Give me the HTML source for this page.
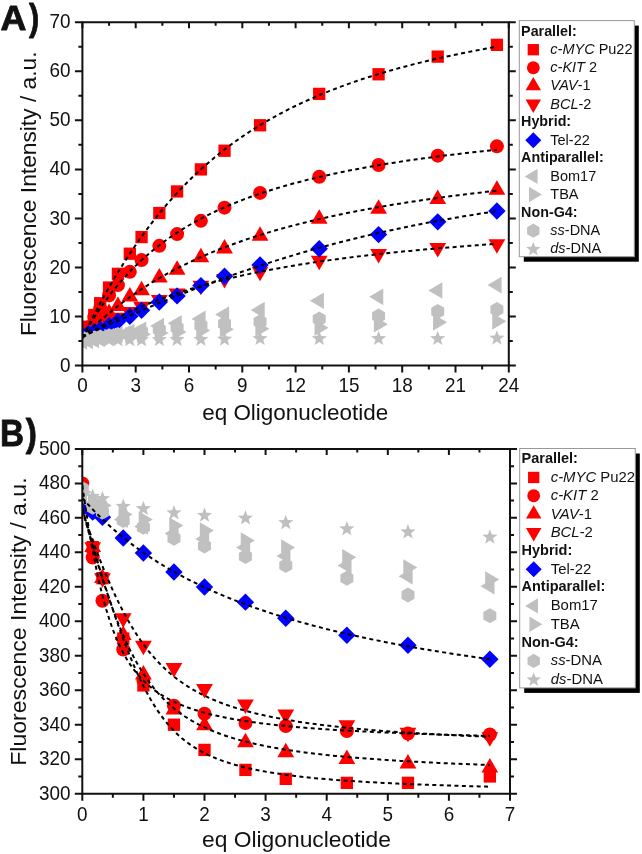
<!DOCTYPE html>
<html><head><meta charset="utf-8"><style>
html,body{margin:0;padding:0;background:#fff;}
body{width:642px;height:854px;overflow:hidden;}
svg{display:block;filter:blur(0.3px);}
text{font-family:"Liberation Sans",sans-serif;fill:#111;}
</style></head><body>
<svg width="642" height="854" viewBox="0 0 642 854">
<defs>
<clipPath id="cA"><rect x="82.4" y="22.3" width="426.4" height="343.2"/></clipPath>
<clipPath id="cB"><rect x="82.3" y="448.9" width="427.7" height="344.8"/></clipPath>
</defs>

<g clip-path="url(#cA)">
<rect x="76.25" y="324.05" width="12.3" height="12.3" fill="#ff0000"/>
<rect x="82.11" y="320.62" width="12.3" height="12.3" fill="#ff0000"/>
<rect x="88.15" y="308.85" width="12.3" height="12.3" fill="#ff0000"/>
<rect x="94.02" y="297.08" width="12.3" height="12.3" fill="#ff0000"/>
<rect x="102.9" y="281.39" width="12.3" height="12.3" fill="#ff0000"/>
<rect x="111.78" y="267.67" width="12.3" height="12.3" fill="#ff0000"/>
<rect x="123.69" y="247.56" width="12.3" height="12.3" fill="#ff0000"/>
<rect x="135.41" y="230.9" width="12.3" height="12.3" fill="#ff0000"/>
<rect x="153.18" y="206.87" width="12.3" height="12.3" fill="#ff0000"/>
<rect x="170.95" y="185.3" width="12.3" height="12.3" fill="#ff0000"/>
<rect x="194.75" y="163.24" width="12.3" height="12.3" fill="#ff0000"/>
<rect x="218.38" y="144.6" width="12.3" height="12.3" fill="#ff0000"/>
<rect x="253.92" y="119.11" width="12.3" height="12.3" fill="#ff0000"/>
<rect x="313.08" y="87.73" width="12.3" height="12.3" fill="#ff0000"/>
<rect x="372.42" y="68.12" width="12.3" height="12.3" fill="#ff0000"/>
<rect x="431.58" y="50.47" width="12.3" height="12.3" fill="#ff0000"/>
<rect x="490.75" y="38.7" width="12.3" height="12.3" fill="#ff0000"/>
<circle cx="82.4" cy="331.18" r="7" fill="#ff0000"/>
<circle cx="88.26" cy="327.19" r="7" fill="#ff0000"/>
<circle cx="94.3" cy="317.31" r="7" fill="#ff0000"/>
<circle cx="100.17" cy="308.4" r="7" fill="#ff0000"/>
<circle cx="109.05" cy="295.39" r="7" fill="#ff0000"/>
<circle cx="117.93" cy="285.09" r="7" fill="#ff0000"/>
<circle cx="129.84" cy="271.86" r="7" fill="#ff0000"/>
<circle cx="141.56" cy="260.09" r="7" fill="#ff0000"/>
<circle cx="159.33" cy="245.87" r="7" fill="#ff0000"/>
<circle cx="177.1" cy="234.1" r="7" fill="#ff0000"/>
<circle cx="200.9" cy="220.87" r="7" fill="#ff0000"/>
<circle cx="224.53" cy="207.63" r="7" fill="#ff0000"/>
<circle cx="260.07" cy="192.92" r="7" fill="#ff0000"/>
<circle cx="319.23" cy="176.74" r="7" fill="#ff0000"/>
<circle cx="378.57" cy="164.97" r="7" fill="#ff0000"/>
<circle cx="437.73" cy="155.66" r="7" fill="#ff0000"/>
<circle cx="496.9" cy="146.34" r="7" fill="#ff0000"/>
<polygon points="82.4,322.49 90.8,336.99 74,336.99" fill="#ff0000"/>
<polygon points="88.26,322.11 96.66,336.61 79.86,336.61" fill="#ff0000"/>
<polygon points="94.3,316.4 102.7,330.9 85.9,330.9" fill="#ff0000"/>
<polygon points="100.17,311.1 108.57,325.6 91.77,325.6" fill="#ff0000"/>
<polygon points="109.05,303.5 117.45,318 100.65,318" fill="#ff0000"/>
<polygon points="117.93,296.41 126.33,310.91 109.53,310.91" fill="#ff0000"/>
<polygon points="129.84,287.05 138.24,301.55 121.44,301.55" fill="#ff0000"/>
<polygon points="141.56,280.67 149.96,295.17 133.16,295.17" fill="#ff0000"/>
<polygon points="159.33,267.97 167.73,282.47 150.93,282.47" fill="#ff0000"/>
<polygon points="177.1,260.13 185.5,274.63 168.7,274.63" fill="#ff0000"/>
<polygon points="200.9,247.87 209.3,262.37 192.5,262.37" fill="#ff0000"/>
<polygon points="224.53,239.05 232.93,253.55 216.13,253.55" fill="#ff0000"/>
<polygon points="260.07,226.3 268.47,240.8 251.67,240.8" fill="#ff0000"/>
<polygon points="319.23,209.14 327.63,223.64 310.83,223.64" fill="#ff0000"/>
<polygon points="378.57,199.33 386.97,213.83 370.17,213.83" fill="#ff0000"/>
<polygon points="437.73,189.53 446.13,204.03 429.33,204.03" fill="#ff0000"/>
<polygon points="496.9,180.21 505.3,194.71 488.5,194.71" fill="#ff0000"/>
<polygon points="82.4,341.83 90.8,327.33 74,327.33" fill="#ff0000"/>
<polygon points="88.26,343.56 96.66,329.06 79.86,329.06" fill="#ff0000"/>
<polygon points="94.3,339.94 102.7,325.44 85.9,325.44" fill="#ff0000"/>
<polygon points="100.17,336.56 108.57,322.06 91.77,322.06" fill="#ff0000"/>
<polygon points="109.05,331.7 117.45,317.2 100.65,317.2" fill="#ff0000"/>
<polygon points="117.93,327.13 126.33,312.63 109.53,312.63" fill="#ff0000"/>
<polygon points="129.84,321.44 138.24,306.94 121.44,306.94" fill="#ff0000"/>
<polygon points="141.56,316.27 149.96,301.77 133.16,301.77" fill="#ff0000"/>
<polygon points="159.33,309.57 167.73,295.07 150.93,295.07" fill="#ff0000"/>
<polygon points="177.1,303 185.5,288.5 168.7,288.5" fill="#ff0000"/>
<polygon points="200.9,295.35 209.3,280.85 192.5,280.85" fill="#ff0000"/>
<polygon points="224.53,288.48 232.93,273.98 216.13,273.98" fill="#ff0000"/>
<polygon points="260.07,281.13 268.47,266.63 251.67,266.63" fill="#ff0000"/>
<polygon points="319.23,270.34 327.63,255.84 310.83,255.84" fill="#ff0000"/>
<polygon points="378.57,263.48 386.97,248.98 370.17,248.98" fill="#ff0000"/>
<polygon points="437.73,257.6 446.13,243.1 429.33,243.1" fill="#ff0000"/>
<polygon points="496.9,253.67 505.3,239.17 488.5,239.17" fill="#ff0000"/>
<polygon points="82.4,326.89 91.1,335.59 82.4,344.29 73.7,335.59" fill="#0000ff"/>
<polygon points="88.26,324.93 96.96,333.63 88.26,342.33 79.56,333.63" fill="#0000ff"/>
<polygon points="94.3,322.97 103,331.67 94.3,340.37 85.6,331.67" fill="#0000ff"/>
<polygon points="100.17,321.01 108.87,329.71 100.17,338.41 91.47,329.71" fill="#0000ff"/>
<polygon points="109.05,317.09 117.75,325.79 109.05,334.49 100.35,325.79" fill="#0000ff"/>
<polygon points="117.93,312.67 126.63,321.37 117.93,330.07 109.23,321.37" fill="#0000ff"/>
<polygon points="129.84,307.53 138.54,316.23 129.84,324.93 121.14,316.23" fill="#0000ff"/>
<polygon points="141.56,301.64 150.26,310.34 141.56,319.04 132.86,310.34" fill="#0000ff"/>
<polygon points="159.33,293.31 168.03,302.01 159.33,310.71 150.63,302.01" fill="#0000ff"/>
<polygon points="177.1,287.18 185.8,295.88 177.1,304.58 168.4,295.88" fill="#0000ff"/>
<polygon points="200.9,276.88 209.6,285.58 200.9,294.28 192.2,285.58" fill="#0000ff"/>
<polygon points="224.53,267.57 233.23,276.27 224.53,284.97 215.83,276.27" fill="#0000ff"/>
<polygon points="260.07,256.29 268.77,264.99 260.07,273.69 251.37,264.99" fill="#0000ff"/>
<polygon points="319.23,240.11 327.93,248.81 319.23,257.51 310.53,248.81" fill="#0000ff"/>
<polygon points="378.57,225.89 387.27,234.59 378.57,243.29 369.87,234.59" fill="#0000ff"/>
<polygon points="437.73,213.15 446.43,221.85 437.73,230.55 429.03,221.85" fill="#0000ff"/>
<polygon points="496.9,202.36 505.6,211.06 496.9,219.76 488.2,211.06" fill="#0000ff"/>
<polygon points="73.07,341.48 87.07,333.18 87.07,349.78" fill="#c0c0c0"/>
<polygon points="78.93,340.99 92.93,332.69 92.93,349.29" fill="#c0c0c0"/>
<polygon points="84.97,340.01 98.97,331.71 98.97,348.31" fill="#c0c0c0"/>
<polygon points="90.83,339.02 104.83,330.72 104.83,347.32" fill="#c0c0c0"/>
<polygon points="99.72,336.57 113.72,328.27 113.72,344.87" fill="#c0c0c0"/>
<polygon points="108.6,334.61 122.6,326.31 122.6,342.91" fill="#c0c0c0"/>
<polygon points="120.5,332.16 134.5,323.86 134.5,340.46" fill="#c0c0c0"/>
<polygon points="132.23,329.71 146.23,321.41 146.23,338.01" fill="#c0c0c0"/>
<polygon points="150,326.03 164,317.73 164,334.33" fill="#c0c0c0"/>
<polygon points="167.76,323.34 181.76,315.04 181.76,331.64" fill="#c0c0c0"/>
<polygon points="191.57,318.92 205.57,310.62 205.57,327.22" fill="#c0c0c0"/>
<polygon points="215.2,314.51 229.2,306.21 229.2,322.81" fill="#c0c0c0"/>
<polygon points="250.73,310.1 264.73,301.8 264.73,318.4" fill="#c0c0c0"/>
<polygon points="309.9,300.78 323.9,292.48 323.9,309.08" fill="#c0c0c0"/>
<polygon points="369.24,296.86 383.24,288.56 383.24,305.16" fill="#c0c0c0"/>
<polygon points="428.4,290.49 442.4,282.19 442.4,298.79" fill="#c0c0c0"/>
<polygon points="487.56,285.09 501.56,276.79 501.56,293.39" fill="#c0c0c0"/>
<polygon points="91.73,340.01 77.73,331.71 77.73,348.31" fill="#c0c0c0"/>
<polygon points="97.6,339.33 83.6,331.03 83.6,347.63" fill="#c0c0c0"/>
<polygon points="103.64,338.66 89.64,330.36 89.64,346.96" fill="#c0c0c0"/>
<polygon points="109.5,338.04 95.5,329.74 95.5,346.34" fill="#c0c0c0"/>
<polygon points="118.38,337.16 104.38,328.86 104.38,345.46" fill="#c0c0c0"/>
<polygon points="127.27,336.33 113.27,328.03 113.27,344.63" fill="#c0c0c0"/>
<polygon points="139.17,335.29 125.17,326.99 125.17,343.59" fill="#c0c0c0"/>
<polygon points="150.9,334.35 136.9,326.05 136.9,342.65" fill="#c0c0c0"/>
<polygon points="168.66,333.06 154.66,324.76 154.66,341.36" fill="#c0c0c0"/>
<polygon points="186.43,331.89 172.43,323.59 172.43,340.19" fill="#c0c0c0"/>
<polygon points="210.24,330.51 196.24,322.21 196.24,338.81" fill="#c0c0c0"/>
<polygon points="233.87,329.31 219.87,321.01 219.87,337.61" fill="#c0c0c0"/>
<polygon points="269.4,328.73 255.4,320.43 255.4,337.03" fill="#c0c0c0"/>
<polygon points="328.56,327.75 314.56,319.45 314.56,336.05" fill="#c0c0c0"/>
<polygon points="387.9,324.32 373.9,316.02 373.9,332.62" fill="#c0c0c0"/>
<polygon points="447.07,322.35 433.07,314.05 433.07,330.65" fill="#c0c0c0"/>
<polygon points="506.23,321.37 492.23,313.07 492.23,329.67" fill="#c0c0c0"/>
<polygon points="82.4,332.51 88.9,336.26 88.9,343.76 82.4,347.51 75.9,343.76 75.9,336.26" fill="#c0c0c0"/>
<polygon points="88.26,331.51 94.76,335.26 94.76,342.76 88.26,346.51 81.77,342.76 81.77,335.26" fill="#c0c0c0"/>
<polygon points="94.3,330.53 100.8,334.28 100.8,341.78 94.3,345.53 87.81,341.78 87.81,334.28" fill="#c0c0c0"/>
<polygon points="100.17,329.62 106.66,333.37 106.66,340.87 100.17,344.62 93.67,340.87 93.67,333.37" fill="#c0c0c0"/>
<polygon points="109.05,328.3 115.55,332.05 115.55,339.55 109.05,343.3 102.55,339.55 102.55,332.05" fill="#c0c0c0"/>
<polygon points="117.93,327.06 124.43,330.81 124.43,338.31 117.93,342.06 111.44,338.31 111.44,330.81" fill="#c0c0c0"/>
<polygon points="129.84,325.49 136.33,329.24 136.33,336.74 129.84,340.49 123.34,336.74 123.34,329.24" fill="#c0c0c0"/>
<polygon points="141.56,324.06 148.06,327.81 148.06,335.31 141.56,339.06 135.07,335.31 135.07,327.81" fill="#c0c0c0"/>
<polygon points="159.33,322.06 165.82,325.81 165.82,333.31 159.33,337.06 152.83,333.31 152.83,325.81" fill="#c0c0c0"/>
<polygon points="177.1,320.25 183.59,324 183.59,331.5 177.1,335.25 170.6,331.5 170.6,324" fill="#c0c0c0"/>
<polygon points="200.9,318.08 207.4,321.83 207.4,329.33 200.9,333.08 194.41,329.33 194.41,321.83" fill="#c0c0c0"/>
<polygon points="224.53,316.16 231.03,319.91 231.03,327.41 224.53,331.16 218.04,327.41 218.04,319.91" fill="#c0c0c0"/>
<polygon points="260.07,314.36 266.56,318.11 266.56,325.61 260.07,329.36 253.57,325.61 253.57,318.11" fill="#c0c0c0"/>
<polygon points="319.23,311.42 325.72,315.17 325.72,322.67 319.23,326.42 312.73,322.67 312.73,315.17" fill="#c0c0c0"/>
<polygon points="378.57,308.48 385.07,312.23 385.07,319.73 378.57,323.48 372.08,319.73 372.08,312.23" fill="#c0c0c0"/>
<polygon points="437.73,304.07 444.23,307.82 444.23,315.32 437.73,319.07 431.24,315.32 431.24,307.82" fill="#c0c0c0"/>
<polygon points="496.9,302.11 503.39,305.86 503.39,313.36 496.9,317.11 490.4,313.36 490.4,305.86" fill="#c0c0c0"/>
<polygon points="82.4,332.11 84.37,337.4 90.01,337.64 85.6,341.15 87.1,346.59 82.4,343.47 77.7,346.59 79.2,341.15 74.79,337.64 80.43,337.4" fill="#c0c0c0"/>
<polygon points="88.26,332.08 90.24,337.36 95.87,337.61 91.46,341.12 92.97,346.55 88.26,343.44 83.56,346.55 85.07,341.12 80.65,337.61 86.29,337.36" fill="#c0c0c0"/>
<polygon points="94.3,332.05 96.28,337.33 101.91,337.58 97.5,341.09 99.01,346.52 94.3,343.41 89.6,346.52 91.11,341.09 86.7,337.58 92.33,337.33" fill="#c0c0c0"/>
<polygon points="100.17,332.02 102.14,337.3 107.78,337.54 103.36,341.06 104.87,346.49 100.17,343.38 95.46,346.49 96.97,341.06 92.56,337.54 98.19,337.3" fill="#c0c0c0"/>
<polygon points="109.05,331.97 111.02,337.25 116.66,337.5 112.25,341.01 113.75,346.44 109.05,343.33 104.35,346.44 105.85,341.01 101.44,337.5 107.08,337.25" fill="#c0c0c0"/>
<polygon points="117.93,331.92 119.91,337.2 125.54,337.45 121.13,340.96 122.64,346.39 117.93,343.28 113.23,346.39 114.74,340.96 110.32,337.45 115.96,337.2" fill="#c0c0c0"/>
<polygon points="129.84,331.85 131.81,337.13 137.45,337.38 133.03,340.89 134.54,346.33 129.84,343.21 125.13,346.33 126.64,340.89 122.23,337.38 127.86,337.13" fill="#c0c0c0"/>
<polygon points="141.56,331.79 143.54,337.07 149.17,337.32 144.76,340.83 146.27,346.26 141.56,343.15 136.86,346.26 138.37,340.83 133.95,337.32 139.59,337.07" fill="#c0c0c0"/>
<polygon points="159.33,331.69 161.3,336.97 166.94,337.22 162.53,340.73 164.03,346.16 159.33,343.05 154.63,346.16 156.13,340.73 151.72,337.22 157.35,336.97" fill="#c0c0c0"/>
<polygon points="177.1,331.59 179.07,336.87 184.7,337.12 180.29,340.63 181.8,346.06 177.1,342.95 172.39,346.06 173.9,340.63 169.49,337.12 175.12,336.87" fill="#c0c0c0"/>
<polygon points="200.9,331.46 202.88,336.74 208.51,336.99 204.1,340.5 205.61,345.93 200.9,342.82 196.2,345.93 197.71,340.5 193.3,336.99 198.93,336.74" fill="#c0c0c0"/>
<polygon points="224.53,331.33 226.51,336.61 232.14,336.86 227.73,340.37 229.24,345.8 224.53,342.69 219.83,345.8 221.34,340.37 216.92,336.86 222.56,336.61" fill="#c0c0c0"/>
<polygon points="260.07,330.64 262.04,335.93 267.68,336.17 263.26,339.68 264.77,345.12 260.07,342 255.36,345.12 256.87,339.68 252.46,336.17 258.09,335.93" fill="#c0c0c0"/>
<polygon points="319.23,330.64 321.2,335.93 326.84,336.17 322.43,339.68 323.93,345.12 319.23,342 314.53,345.12 316.03,339.68 311.62,336.17 317.25,335.93" fill="#c0c0c0"/>
<polygon points="378.57,330.64 380.55,335.93 386.18,336.17 381.77,339.68 383.27,345.12 378.57,342 373.87,345.12 375.37,339.68 370.96,336.17 376.6,335.93" fill="#c0c0c0"/>
<polygon points="437.73,330.64 439.71,335.93 445.34,336.17 440.93,339.68 442.44,345.12 437.73,342 433.03,345.12 434.54,339.68 430.12,336.17 435.76,335.93" fill="#c0c0c0"/>
<polygon points="496.9,330.15 498.87,335.44 504.5,335.68 500.09,339.19 501.6,344.63 496.9,341.51 492.19,344.63 493.7,339.19 489.29,335.68 494.92,335.44" fill="#c0c0c0"/>
<path d="M82.4,337.96 L85.88,330.87 L89.37,323.93 L92.85,317.13 L96.33,310.48 L99.82,303.98 L103.3,297.62 L106.78,291.4 L110.27,285.32 L113.75,279.37 L117.23,273.57 L120.71,267.9 L124.2,262.36 L127.68,256.95 L131.16,251.68 L134.65,246.52 L138.13,241.49 L141.61,236.59 L145.1,231.8 L148.58,227.13 L152.06,222.57 L155.55,218.13 L159.03,213.79 L162.51,209.56 L166,205.44 L169.48,201.42 L172.96,197.49 L176.45,193.67 L179.93,189.94 L183.41,186.3 L186.89,182.75 L190.38,179.29 L193.86,175.91 L197.34,172.62 L200.83,169.4 L204.31,166.27 L207.79,163.21 L211.28,160.23 L214.76,157.31 L218.24,154.47 L221.73,151.7 L225.21,148.99 L228.69,146.35 L232.18,143.77 L235.66,141.25 L239.14,138.79 L242.63,136.39 L246.11,134.04 L249.59,131.75 L253.07,129.51 L256.56,127.32 L260.04,125.18 L263.52,123.09 L267.01,121.05 L270.49,119.05 L273.97,117.1 L277.46,115.19 L280.94,113.32 L284.42,111.49 L287.91,109.7 L291.39,107.95 L294.87,106.24 L298.36,104.56 L301.84,102.92 L305.32,101.31 L308.81,99.74 L312.29,98.19 L315.77,96.68 L319.26,95.21 L322.74,93.76 L326.22,92.34 L329.7,90.94 L333.19,89.58 L336.67,88.24 L340.15,86.93 L343.64,85.64 L347.12,84.38 L350.6,83.15 L354.09,81.93 L357.57,80.74 L361.05,79.57 L364.54,78.42 L368.02,77.3 L371.5,76.19 L374.99,75.11 L378.47,74.04 L381.95,73 L385.44,71.97 L388.92,70.96 L392.4,69.97 L395.88,68.99 L399.37,68.03 L402.85,67.09 L406.33,66.17 L409.82,65.26 L413.3,64.36 L416.78,63.48 L420.27,62.62 L423.75,61.77 L427.23,60.93 L430.72,60.11 L434.2,59.3 L437.68,58.5 L441.17,57.72 L444.65,56.95 L448.13,56.19 L451.62,55.44 L455.1,54.7 L458.58,53.98 L462.06,53.27 L465.55,52.56 L469.03,51.87 L472.51,51.19 L476,50.52 L479.48,49.86 L482.96,49.2 L486.45,48.56 L489.93,47.93 L493.41,47.31 L496.9,46.69" fill="none" stroke="#000" stroke-width="2" stroke-dasharray="4 3.4"/>
<path d="M82.4,337.52 L85.88,331.29 L89.37,325.33 L92.85,319.62 L96.33,314.16 L99.82,308.92 L103.3,303.9 L106.78,299.08 L110.27,294.46 L113.75,290.02 L117.23,285.76 L120.71,281.66 L124.2,277.72 L127.68,273.93 L131.16,270.28 L134.65,266.77 L138.13,263.39 L141.61,260.12 L145.1,256.98 L148.58,253.94 L152.06,251.01 L155.55,248.18 L159.03,245.45 L162.51,242.8 L166,240.25 L169.48,237.78 L172.96,235.38 L176.45,233.06 L179.93,230.82 L183.41,228.64 L186.89,226.53 L190.38,224.49 L193.86,222.5 L197.34,220.58 L200.83,218.71 L204.31,216.89 L207.79,215.12 L211.28,213.41 L214.76,211.74 L218.24,210.12 L221.73,208.54 L225.21,207 L228.69,205.51 L232.18,204.05 L235.66,202.63 L239.14,201.24 L242.63,199.9 L246.11,198.58 L249.59,197.3 L253.07,196.05 L256.56,194.83 L260.04,193.63 L263.52,192.47 L267.01,191.33 L270.49,190.22 L273.97,189.14 L277.46,188.08 L280.94,187.04 L284.42,186.03 L287.91,185.04 L291.39,184.07 L294.87,183.12 L298.36,182.19 L301.84,181.28 L305.32,180.39 L308.81,179.52 L312.29,178.67 L315.77,177.83 L319.26,177.01 L322.74,176.21 L326.22,175.42 L329.7,174.65 L333.19,173.89 L336.67,173.15 L340.15,172.42 L343.64,171.7 L347.12,171 L350.6,170.31 L354.09,169.64 L357.57,168.97 L361.05,168.32 L364.54,167.68 L368.02,167.06 L371.5,166.44 L374.99,165.83 L378.47,165.24 L381.95,164.65 L385.44,164.07 L388.92,163.51 L392.4,162.95 L395.88,162.4 L399.37,161.87 L402.85,161.34 L406.33,160.82 L409.82,160.3 L413.3,159.8 L416.78,159.3 L420.27,158.81 L423.75,158.33 L427.23,157.86 L430.72,157.39 L434.2,156.94 L437.68,156.48 L441.17,156.04 L444.65,155.6 L448.13,155.17 L451.62,154.74 L455.1,154.32 L458.58,153.91 L462.06,153.5 L465.55,153.1 L469.03,152.71 L472.51,152.31 L476,151.93 L479.48,151.55 L482.96,151.18 L486.45,150.81 L489.93,150.44 L493.41,150.09 L496.9,149.73" fill="none" stroke="#000" stroke-width="2" stroke-dasharray="4 3.4"/>
<path d="M82.4,337.57 L85.88,334.1 L89.37,330.71 L92.85,327.42 L96.33,324.21 L99.82,321.08 L103.3,318.03 L106.78,315.06 L110.27,312.16 L113.75,309.34 L117.23,306.58 L120.71,303.9 L124.2,301.28 L127.68,298.73 L131.16,296.24 L134.65,293.81 L138.13,291.44 L141.61,289.12 L145.1,286.87 L148.58,284.66 L152.06,282.51 L155.55,280.41 L159.03,278.36 L162.51,276.36 L166,274.4 L169.48,272.49 L172.96,270.62 L176.45,268.79 L179.93,267.01 L183.41,265.27 L186.89,263.56 L190.38,261.89 L193.86,260.26 L197.34,258.67 L200.83,257.11 L204.31,255.58 L207.79,254.08 L211.28,252.62 L214.76,251.19 L218.24,249.79 L221.73,248.41 L225.21,247.07 L228.69,245.75 L232.18,244.46 L235.66,243.2 L239.14,241.96 L242.63,240.74 L246.11,239.55 L249.59,238.38 L253.07,237.24 L256.56,236.12 L260.04,235.02 L263.52,233.94 L267.01,232.88 L270.49,231.84 L273.97,230.81 L277.46,229.81 L280.94,228.83 L284.42,227.86 L287.91,226.92 L291.39,225.98 L294.87,225.07 L298.36,224.17 L301.84,223.29 L305.32,222.42 L308.81,221.57 L312.29,220.73 L315.77,219.91 L319.26,219.1 L322.74,218.3 L326.22,217.52 L329.7,216.75 L333.19,215.99 L336.67,215.25 L340.15,214.52 L343.64,213.8 L347.12,213.09 L350.6,212.39 L354.09,211.7 L357.57,211.03 L361.05,210.36 L364.54,209.71 L368.02,209.06 L371.5,208.43 L374.99,207.8 L378.47,207.18 L381.95,206.58 L385.44,205.98 L388.92,205.39 L392.4,204.81 L395.88,204.24 L399.37,203.67 L402.85,203.12 L406.33,202.57 L409.82,202.03 L413.3,201.5 L416.78,200.98 L420.27,200.46 L423.75,199.95 L427.23,199.44 L430.72,198.95 L434.2,198.46 L437.68,197.98 L441.17,197.5 L444.65,197.03 L448.13,196.57 L451.62,196.11 L455.1,195.66 L458.58,195.21 L462.06,194.77 L465.55,194.34 L469.03,193.91 L472.51,193.49 L476,193.07 L479.48,192.66 L482.96,192.25 L486.45,191.85 L489.93,191.45 L493.41,191.06 L496.9,190.67" fill="none" stroke="#000" stroke-width="2" stroke-dasharray="4 3.4"/>
<path d="M82.4,337.56 L85.88,335.37 L89.37,333.22 L92.85,331.13 L96.33,329.09 L99.82,327.09 L103.3,325.14 L106.78,323.24 L110.27,321.39 L113.75,319.58 L117.23,317.81 L120.71,316.09 L124.2,314.41 L127.68,312.77 L131.16,311.16 L134.65,309.6 L138.13,308.07 L141.61,306.58 L145.1,305.12 L148.58,303.7 L152.06,302.31 L155.55,300.96 L159.03,299.63 L162.51,298.34 L166,297.08 L169.48,295.84 L172.96,294.64 L176.45,293.46 L179.93,292.31 L183.41,291.18 L186.89,290.08 L190.38,289 L193.86,287.95 L197.34,286.92 L200.83,285.92 L204.31,284.93 L207.79,283.97 L211.28,283.03 L214.76,282.1 L218.24,281.2 L221.73,280.32 L225.21,279.45 L228.69,278.61 L232.18,277.78 L235.66,276.97 L239.14,276.17 L242.63,275.39 L246.11,274.63 L249.59,273.88 L253.07,273.15 L256.56,272.43 L260.04,271.73 L263.52,271.04 L267.01,270.36 L270.49,269.7 L273.97,269.05 L277.46,268.41 L280.94,267.78 L284.42,267.17 L287.91,266.56 L291.39,265.97 L294.87,265.39 L298.36,264.82 L301.84,264.26 L305.32,263.71 L308.81,263.17 L312.29,262.64 L315.77,262.12 L319.26,261.61 L322.74,261.1 L326.22,260.61 L329.7,260.12 L333.19,259.64 L336.67,259.18 L340.15,258.71 L343.64,258.26 L347.12,257.81 L350.6,257.37 L354.09,256.94 L357.57,256.52 L361.05,256.1 L364.54,255.69 L368.02,255.29 L371.5,254.89 L374.99,254.5 L378.47,254.11 L381.95,253.73 L385.44,253.36 L388.92,252.99 L392.4,252.63 L395.88,252.27 L399.37,251.92 L402.85,251.57 L406.33,251.23 L409.82,250.89 L413.3,250.56 L416.78,250.24 L420.27,249.92 L423.75,249.6 L427.23,249.29 L430.72,248.98 L434.2,248.67 L437.68,248.38 L441.17,248.08 L444.65,247.79 L448.13,247.5 L451.62,247.22 L455.1,246.94 L458.58,246.66 L462.06,246.39 L465.55,246.13 L469.03,245.86 L472.51,245.6 L476,245.34 L479.48,245.09 L482.96,244.84 L486.45,244.59 L489.93,244.35 L493.41,244.1 L496.9,243.87" fill="none" stroke="#000" stroke-width="2" stroke-dasharray="4 3.4"/>
<path d="M82.4,336.7 L85.88,335.09 L89.37,333.49 L92.85,331.9 L96.33,330.32 L99.82,328.74 L103.3,327.17 L106.78,325.61 L110.27,324.06 L113.75,322.51 L117.23,320.97 L120.71,319.44 L124.2,317.92 L127.68,316.4 L131.16,314.9 L134.65,313.4 L138.13,311.91 L141.61,310.43 L145.1,308.96 L148.58,307.5 L152.06,306.04 L155.55,304.6 L159.03,303.16 L162.51,301.73 L166,300.31 L169.48,298.9 L172.96,297.5 L176.45,296.11 L179.93,294.73 L183.41,293.36 L186.89,292 L190.38,290.64 L193.86,289.3 L197.34,287.97 L200.83,286.65 L204.31,285.33 L207.79,284.03 L211.28,282.74 L214.76,281.45 L218.24,280.18 L221.73,278.92 L225.21,277.66 L228.69,276.42 L232.18,275.19 L235.66,273.97 L239.14,272.76 L242.63,271.56 L246.11,270.37 L249.59,269.19 L253.07,268.02 L256.56,266.86 L260.04,265.71 L263.52,264.58 L267.01,263.45 L270.49,262.33 L273.97,261.23 L277.46,260.14 L280.94,259.05 L284.42,257.98 L287.91,256.92 L291.39,255.87 L294.87,254.82 L298.36,253.79 L301.84,252.78 L305.32,251.77 L308.81,250.77 L312.29,249.78 L315.77,248.8 L319.26,247.84 L322.74,246.88 L326.22,245.94 L329.7,245 L333.19,244.08 L336.67,243.16 L340.15,242.26 L343.64,241.37 L347.12,240.48 L350.6,239.61 L354.09,238.75 L357.57,237.89 L361.05,237.05 L364.54,236.22 L368.02,235.39 L371.5,234.58 L374.99,233.78 L378.47,232.98 L381.95,232.2 L385.44,231.42 L388.92,230.66 L392.4,229.9 L395.88,229.15 L399.37,228.41 L402.85,227.69 L406.33,226.97 L409.82,226.26 L413.3,225.55 L416.78,224.86 L420.27,224.18 L423.75,223.5 L427.23,222.83 L430.72,222.17 L434.2,221.52 L437.68,220.88 L441.17,220.25 L444.65,219.62 L448.13,219 L451.62,218.39 L455.1,217.79 L458.58,217.19 L462.06,216.6 L465.55,216.02 L469.03,215.45 L472.51,214.89 L476,214.33 L479.48,213.78 L482.96,213.23 L486.45,212.7 L489.93,212.17 L493.41,211.64 L496.9,211.13" fill="none" stroke="#000" stroke-width="2" stroke-dasharray="4 3.4"/>
</g>
<g clip-path="url(#cB)">
<rect x="76.15" y="502.23" width="12.3" height="12.3" fill="#ff0000"/>
<rect x="86.54" y="541.02" width="12.3" height="12.3" fill="#ff0000"/>
<rect x="96.31" y="572.05" width="12.3" height="12.3" fill="#ff0000"/>
<rect x="117.09" y="632.39" width="12.3" height="12.3" fill="#ff0000"/>
<rect x="137.25" y="679.28" width="12.3" height="12.3" fill="#ff0000"/>
<rect x="167.8" y="718.59" width="12.3" height="12.3" fill="#ff0000"/>
<rect x="198.35" y="743.76" width="12.3" height="12.3" fill="#ff0000"/>
<rect x="239.29" y="763.76" width="12.3" height="12.3" fill="#ff0000"/>
<rect x="279.61" y="772.72" width="12.3" height="12.3" fill="#ff0000"/>
<rect x="340.71" y="776.69" width="12.3" height="12.3" fill="#ff0000"/>
<rect x="401.81" y="776.69" width="12.3" height="12.3" fill="#ff0000"/>
<rect x="483.69" y="770.31" width="12.3" height="12.3" fill="#ff0000"/>
<circle cx="82.3" cy="483.38" r="7" fill="#ff0000"/>
<circle cx="92.69" cy="557.51" r="7" fill="#ff0000"/>
<circle cx="102.46" cy="600.78" r="7" fill="#ff0000"/>
<circle cx="123.24" cy="649.57" r="7" fill="#ff0000"/>
<circle cx="143.4" cy="679.92" r="7" fill="#ff0000"/>
<circle cx="173.95" cy="705.78" r="7" fill="#ff0000"/>
<circle cx="204.5" cy="713.71" r="7" fill="#ff0000"/>
<circle cx="245.44" cy="723.02" r="7" fill="#ff0000"/>
<circle cx="285.76" cy="726.12" r="7" fill="#ff0000"/>
<circle cx="346.86" cy="731.12" r="7" fill="#ff0000"/>
<circle cx="407.96" cy="733.53" r="7" fill="#ff0000"/>
<circle cx="489.84" cy="734.57" r="7" fill="#ff0000"/>
<polygon points="82.3,498.71 90.7,513.21 73.9,513.21" fill="#ff0000"/>
<polygon points="92.69,537.5 101.09,552 84.29,552" fill="#ff0000"/>
<polygon points="102.46,568.53 110.86,583.03 94.06,583.03" fill="#ff0000"/>
<polygon points="123.24,625.43 131.64,639.93 114.84,639.93" fill="#ff0000"/>
<polygon points="143.4,665.08 151.8,679.58 135,679.58" fill="#ff0000"/>
<polygon points="173.95,700.07 182.35,714.57 165.55,714.57" fill="#ff0000"/>
<polygon points="204.5,715.76 212.9,730.26 196.1,730.26" fill="#ff0000"/>
<polygon points="245.44,732.66 253.84,747.16 237.04,747.16" fill="#ff0000"/>
<polygon points="285.76,742.66 294.16,757.16 277.36,757.16" fill="#ff0000"/>
<polygon points="346.86,749.55 355.26,764.05 338.46,764.05" fill="#ff0000"/>
<polygon points="407.96,754.04 416.36,768.54 399.56,768.54" fill="#ff0000"/>
<polygon points="489.84,758 498.24,772.5 481.44,772.5" fill="#ff0000"/>
<polygon points="82.3,518.04 90.7,503.54 73.9,503.54" fill="#ff0000"/>
<polygon points="92.69,556.83 101.09,542.33 84.29,542.33" fill="#ff0000"/>
<polygon points="102.46,587.87 110.86,573.37 94.06,573.37" fill="#ff0000"/>
<polygon points="123.24,627.86 131.64,613.36 114.84,613.36" fill="#ff0000"/>
<polygon points="143.4,655.28 151.8,640.78 135,640.78" fill="#ff0000"/>
<polygon points="173.95,677.51 182.35,663.01 165.55,663.01" fill="#ff0000"/>
<polygon points="204.5,698.38 212.9,683.88 196.1,683.88" fill="#ff0000"/>
<polygon points="245.44,713.89 253.84,699.39 237.04,699.39" fill="#ff0000"/>
<polygon points="285.76,723.89 294.16,709.39 277.36,709.39" fill="#ff0000"/>
<polygon points="346.86,734.75 355.26,720.25 338.46,720.25" fill="#ff0000"/>
<polygon points="407.96,742.34 416.36,727.84 399.56,727.84" fill="#ff0000"/>
<polygon points="489.84,746.65 498.24,732.15 481.44,732.15" fill="#ff0000"/>
<polygon points="82.3,498.82 91,507.52 82.3,516.22 73.6,507.52" fill="#0000ff"/>
<polygon points="92.69,503.47 101.39,512.17 92.69,520.87 83.99,512.17" fill="#0000ff"/>
<polygon points="102.46,508.64 111.16,517.34 102.46,526.04 93.76,517.34" fill="#0000ff"/>
<polygon points="123.24,529.33 131.94,538.03 123.24,546.73 114.54,538.03" fill="#0000ff"/>
<polygon points="143.4,544.33 152.1,553.03 143.4,561.73 134.7,553.03" fill="#0000ff"/>
<polygon points="173.95,563.29 182.65,571.99 173.95,580.69 165.25,571.99" fill="#0000ff"/>
<polygon points="204.5,578.29 213.2,586.99 204.5,595.69 195.8,586.99" fill="#0000ff"/>
<polygon points="245.44,593.46 254.14,602.16 245.44,610.86 236.74,602.16" fill="#0000ff"/>
<polygon points="285.76,609.5 294.46,618.2 285.76,626.9 277.06,618.2" fill="#0000ff"/>
<polygon points="346.86,626.56 355.56,635.26 346.86,643.96 338.16,635.26" fill="#0000ff"/>
<polygon points="407.96,636.56 416.66,645.26 407.96,653.96 399.26,645.26" fill="#0000ff"/>
<polygon points="489.84,650.53 498.54,659.23 489.84,667.93 481.14,659.23" fill="#0000ff"/>
<polygon points="72.97,497.17 86.97,488.87 86.97,505.47" fill="#c0c0c0"/>
<polygon points="83.35,503.72 97.35,495.42 97.35,512.02" fill="#c0c0c0"/>
<polygon points="93.13,508.9 107.13,500.6 107.13,517.2" fill="#c0c0c0"/>
<polygon points="113.9,519.58 127.9,511.28 127.9,527.88" fill="#c0c0c0"/>
<polygon points="134.07,526.48 148.07,518.18 148.07,534.78" fill="#c0c0c0"/>
<polygon points="164.62,533.38 178.62,525.08 178.62,541.68" fill="#c0c0c0"/>
<polygon points="195.17,538.89 209.17,530.59 209.17,547.19" fill="#c0c0c0"/>
<polygon points="236.1,547.51 250.1,539.21 250.1,555.81" fill="#c0c0c0"/>
<polygon points="276.43,555.96 290.43,547.66 290.43,564.26" fill="#c0c0c0"/>
<polygon points="337.53,565.61 351.53,557.31 351.53,573.91" fill="#c0c0c0"/>
<polygon points="398.63,576.3 412.63,568 412.63,584.6" fill="#c0c0c0"/>
<polygon points="480.5,586.13 494.5,577.83 494.5,594.43" fill="#c0c0c0"/>
<polygon points="91.63,492 77.63,483.7 77.63,500.3" fill="#c0c0c0"/>
<polygon points="102.02,502 88.02,493.7 88.02,510.3" fill="#c0c0c0"/>
<polygon points="111.8,505.45 97.8,497.15 97.8,513.75" fill="#c0c0c0"/>
<polygon points="132.57,514.41 118.57,506.11 118.57,522.71" fill="#c0c0c0"/>
<polygon points="152.73,519.58 138.73,511.28 138.73,527.88" fill="#c0c0c0"/>
<polygon points="183.28,525.62 169.28,517.32 169.28,533.92" fill="#c0c0c0"/>
<polygon points="213.83,530.62 199.83,522.32 199.83,538.92" fill="#c0c0c0"/>
<polygon points="254.77,540.44 240.77,532.14 240.77,548.74" fill="#c0c0c0"/>
<polygon points="295.1,547.51 281.1,539.21 281.1,555.81" fill="#c0c0c0"/>
<polygon points="356.2,557.34 342.2,549.04 342.2,565.64" fill="#c0c0c0"/>
<polygon points="417.3,567.51 403.3,559.21 403.3,575.81" fill="#c0c0c0"/>
<polygon points="499.17,579.58 485.17,571.28 485.17,587.88" fill="#c0c0c0"/>
<polygon points="82.3,481.05 88.8,484.8 88.8,492.3 82.3,496.05 75.8,492.3 75.8,484.8" fill="#c0c0c0"/>
<polygon points="92.69,499.67 99.18,503.42 99.18,510.92 92.69,514.67 86.19,510.92 86.19,503.42" fill="#c0c0c0"/>
<polygon points="102.46,504.84 108.96,508.59 108.96,516.09 102.46,519.84 95.97,516.09 95.97,508.59" fill="#c0c0c0"/>
<polygon points="123.24,512.95 129.73,516.7 129.73,524.2 123.24,527.95 116.74,524.2 116.74,516.7" fill="#c0c0c0"/>
<polygon points="143.4,519.84 149.9,523.59 149.9,531.09 143.4,534.84 136.9,531.09 136.9,523.59" fill="#c0c0c0"/>
<polygon points="173.95,530.7 180.45,534.45 180.45,541.95 173.95,545.7 167.45,541.95 167.45,534.45" fill="#c0c0c0"/>
<polygon points="204.5,538.46 211,542.21 211,549.71 204.5,553.46 198,549.71 198,542.21" fill="#c0c0c0"/>
<polygon points="245.44,548.98 251.93,552.73 251.93,560.23 245.44,563.98 238.94,560.23 238.94,552.73" fill="#c0c0c0"/>
<polygon points="285.76,558.11 292.26,561.86 292.26,569.36 285.76,573.11 279.27,569.36 279.27,561.86" fill="#c0c0c0"/>
<polygon points="346.86,570.7 353.36,574.45 353.36,581.95 346.86,585.7 340.37,581.95 340.37,574.45" fill="#c0c0c0"/>
<polygon points="407.96,587.42 414.46,591.17 414.46,598.67 407.96,602.42 401.47,598.67 401.47,591.17" fill="#c0c0c0"/>
<polygon points="489.84,608.28 496.33,612.03 496.33,619.53 489.84,623.28 483.34,619.53 483.34,612.03" fill="#c0c0c0"/>
<polygon points="82.3,486.32 84.27,491.61 89.91,491.85 85.5,495.36 87,500.8 82.3,497.68 77.6,500.8 79.1,495.36 74.69,491.85 80.33,491.61" fill="#c0c0c0"/>
<polygon points="92.69,488.39 94.66,493.67 100.3,493.92 95.88,497.43 97.39,502.86 92.69,499.75 87.98,502.86 89.49,497.43 85.08,493.92 90.71,493.67" fill="#c0c0c0"/>
<polygon points="102.46,490.81 104.44,496.09 110.07,496.33 105.66,499.84 107.17,505.28 102.46,502.17 97.76,505.28 99.27,499.84 94.85,496.33 100.49,496.09" fill="#c0c0c0"/>
<polygon points="123.24,498.39 125.21,503.67 130.85,503.92 126.43,507.43 127.94,512.86 123.24,509.75 118.53,512.86 120.04,507.43 115.63,503.92 121.26,503.67" fill="#c0c0c0"/>
<polygon points="143.4,500.63 145.37,505.91 151.01,506.16 146.6,509.67 148.1,515.11 143.4,511.99 138.7,515.11 140.2,509.67 135.79,506.16 141.43,505.91" fill="#c0c0c0"/>
<polygon points="173.95,504.94 175.92,510.22 181.56,510.47 177.15,513.98 178.65,519.42 173.95,516.3 169.25,519.42 170.75,513.98 166.34,510.47 171.98,510.22" fill="#c0c0c0"/>
<polygon points="204.5,507.36 206.47,512.64 212.11,512.88 207.7,516.4 209.2,521.83 204.5,518.72 199.8,521.83 201.3,516.4 196.89,512.88 202.53,512.64" fill="#c0c0c0"/>
<polygon points="245.44,510.12 247.41,515.4 253.05,515.64 248.63,519.15 250.14,524.59 245.44,521.48 240.73,524.59 242.24,519.15 237.83,515.64 243.46,515.4" fill="#c0c0c0"/>
<polygon points="285.76,514.77 287.74,520.05 293.37,520.3 288.96,523.81 290.47,529.24 285.76,526.13 281.06,529.24 282.57,523.81 278.15,520.3 283.79,520.05" fill="#c0c0c0"/>
<polygon points="346.86,520.98 348.84,526.26 354.47,526.5 350.06,530.01 351.57,535.45 346.86,532.34 342.16,535.45 343.67,530.01 339.25,526.5 344.89,526.26" fill="#c0c0c0"/>
<polygon points="407.96,524.08 409.94,529.36 415.57,529.61 411.16,533.12 412.67,538.55 407.96,535.44 403.26,538.55 404.77,533.12 400.35,529.61 405.99,529.36" fill="#c0c0c0"/>
<polygon points="489.84,529.25 491.81,534.53 497.45,534.78 493.03,538.29 494.54,543.72 489.84,540.61 485.13,543.72 486.64,538.29 482.23,534.78 487.86,534.53" fill="#c0c0c0"/>
<path d="M82.3,509.79 L85.72,521.7 L89.15,533.45 L92.57,545.05 L96,556.47 L99.42,567.71 L102.85,578.73 L106.27,589.52 L109.7,600.07 L113.12,610.34 L116.55,620.32 L119.97,629.99 L123.4,639.31 L126.82,648.27 L130.25,656.86 L133.67,665.04 L137.09,672.82 L140.52,680.18 L143.94,687.11 L147.37,693.61 L150.79,699.69 L154.22,705.36 L157.64,710.63 L161.07,715.51 L164.49,720.03 L167.92,724.21 L171.34,728.07 L174.77,731.63 L178.19,734.92 L181.62,737.95 L185.04,740.75 L188.47,743.33 L191.89,745.72 L195.31,747.94 L198.74,749.99 L202.16,751.9 L205.59,753.67 L209.01,755.32 L212.44,756.85 L215.86,758.29 L219.29,759.63 L222.71,760.89 L226.14,762.07 L229.56,763.17 L232.99,764.22 L236.41,765.2 L239.84,766.12 L243.26,767 L246.68,767.82 L250.11,768.6 L253.53,769.34 L256.96,770.05 L260.38,770.72 L263.81,771.35 L267.23,771.96 L270.66,772.53 L274.08,773.08 L277.51,773.61 L280.93,774.11 L284.36,774.59 L287.78,775.05 L291.21,775.49 L294.63,775.92 L298.05,776.32 L301.48,776.71 L304.9,777.09 L308.33,777.45 L311.75,777.79 L315.18,778.13 L318.6,778.45 L322.03,778.76 L325.45,779.06 L328.88,779.35 L332.3,779.63 L335.73,779.9 L339.15,780.16 L342.58,780.41 L346,780.66 L349.43,780.89 L352.85,781.12 L356.27,781.35 L359.7,781.56 L363.12,781.77 L366.55,781.97 L369.97,782.17 L373.4,782.36 L376.82,782.55 L380.25,782.73 L383.67,782.91 L387.1,783.08 L390.52,783.25 L393.95,783.41 L397.37,783.57 L400.8,783.72 L404.22,783.87 L407.64,784.02 L411.07,784.16 L414.49,784.3 L417.92,784.44 L421.34,784.57 L424.77,784.7 L428.19,784.83 L431.62,784.95 L435.04,785.07 L438.47,785.19 L441.89,785.31 L445.32,785.42 L448.74,785.53 L452.17,785.64 L455.59,785.75 L459.01,785.85 L462.44,785.95 L465.86,786.05 L469.29,786.15 L472.71,786.24 L476.14,786.34 L479.56,786.43 L482.99,786.52 L486.41,786.61 L489.84,786.69" fill="none" stroke="#000" stroke-width="2" stroke-dasharray="4 3.4"/>
<path d="M82.3,485.48 L85.72,508.83 L89.15,530.27 L92.57,549.77 L96,567.36 L99.42,583.11 L102.85,597.13 L106.27,609.56 L109.7,620.55 L113.12,630.27 L116.55,638.86 L119.97,646.47 L123.4,653.23 L126.82,659.24 L130.25,664.61 L133.67,669.42 L137.09,673.74 L140.52,677.64 L143.94,681.18 L147.37,684.38 L150.79,687.31 L154.22,689.98 L157.64,692.44 L161.07,694.69 L164.49,696.77 L167.92,698.7 L171.34,700.48 L174.77,702.14 L178.19,703.69 L181.62,705.13 L185.04,706.48 L188.47,707.74 L191.89,708.93 L195.31,710.05 L198.74,711.1 L202.16,712.1 L205.59,713.03 L209.01,713.92 L212.44,714.77 L215.86,715.56 L219.29,716.32 L222.71,717.05 L226.14,717.73 L229.56,718.39 L232.99,719.02 L236.41,719.62 L239.84,720.19 L243.26,720.74 L246.68,721.26 L250.11,721.77 L253.53,722.25 L256.96,722.71 L260.38,723.16 L263.81,723.59 L267.23,724 L270.66,724.4 L274.08,724.78 L277.51,725.15 L280.93,725.51 L284.36,725.86 L287.78,726.19 L291.21,726.51 L294.63,726.82 L298.05,727.13 L301.48,727.42 L304.9,727.7 L308.33,727.98 L311.75,728.24 L315.18,728.5 L318.6,728.75 L322.03,729 L325.45,729.23 L328.88,729.46 L332.3,729.69 L335.73,729.9 L339.15,730.11 L342.58,730.32 L346,730.52 L349.43,730.72 L352.85,730.91 L356.27,731.09 L359.7,731.27 L363.12,731.45 L366.55,731.62 L369.97,731.79 L373.4,731.95 L376.82,732.11 L380.25,732.27 L383.67,732.42 L387.1,732.57 L390.52,732.72 L393.95,732.86 L397.37,733 L400.8,733.14 L404.22,733.27 L407.64,733.4 L411.07,733.53 L414.49,733.66 L417.92,733.78 L421.34,733.9 L424.77,734.02 L428.19,734.13 L431.62,734.25 L435.04,734.36 L438.47,734.47 L441.89,734.57 L445.32,734.68 L448.74,734.78 L452.17,734.88 L455.59,734.98 L459.01,735.08 L462.44,735.17 L465.86,735.26 L469.29,735.36 L472.71,735.45 L476.14,735.54 L479.56,735.62 L482.99,735.71 L486.41,735.79 L489.84,735.88" fill="none" stroke="#000" stroke-width="2" stroke-dasharray="4 3.4"/>
<path d="M82.3,507.68 L85.72,520.72 L89.15,533.4 L92.57,545.69 L96,557.57 L99.42,569.01 L102.85,580 L106.27,590.51 L109.7,600.55 L113.12,610.09 L116.55,619.14 L119.97,627.69 L123.4,635.74 L126.82,643.31 L130.25,650.41 L133.67,657.06 L137.09,663.26 L140.52,669.05 L143.94,674.45 L147.37,679.47 L150.79,684.15 L154.22,688.5 L157.64,692.56 L161.07,696.33 L164.49,699.84 L167.92,703.12 L171.34,706.18 L174.77,709.03 L178.19,711.7 L181.62,714.2 L185.04,716.54 L188.47,718.74 L191.89,720.8 L195.31,722.74 L198.74,724.56 L202.16,726.28 L205.59,727.9 L209.01,729.43 L212.44,730.88 L215.86,732.25 L219.29,733.55 L222.71,734.79 L226.14,735.96 L229.56,737.07 L232.99,738.13 L236.41,739.14 L239.84,740.11 L243.26,741.03 L246.68,741.9 L250.11,742.74 L253.53,743.55 L256.96,744.32 L260.38,745.05 L263.81,745.76 L267.23,746.44 L270.66,747.09 L274.08,747.72 L277.51,748.33 L280.93,748.91 L284.36,749.47 L287.78,750 L291.21,750.52 L294.63,751.03 L298.05,751.51 L301.48,751.98 L304.9,752.43 L308.33,752.87 L311.75,753.29 L315.18,753.7 L318.6,754.1 L322.03,754.48 L325.45,754.86 L328.88,755.22 L332.3,755.57 L335.73,755.91 L339.15,756.24 L342.58,756.56 L346,756.88 L349.43,757.18 L352.85,757.47 L356.27,757.76 L359.7,758.04 L363.12,758.31 L366.55,758.58 L369.97,758.84 L373.4,759.09 L376.82,759.33 L380.25,759.57 L383.67,759.81 L387.1,760.04 L390.52,760.26 L393.95,760.47 L397.37,760.69 L400.8,760.89 L404.22,761.1 L407.64,761.29 L411.07,761.49 L414.49,761.68 L417.92,761.86 L421.34,762.04 L424.77,762.22 L428.19,762.39 L431.62,762.56 L435.04,762.73 L438.47,762.89 L441.89,763.05 L445.32,763.21 L448.74,763.36 L452.17,763.51 L455.59,763.66 L459.01,763.8 L462.44,763.94 L465.86,764.08 L469.29,764.22 L472.71,764.35 L476.14,764.48 L479.56,764.61 L482.99,764.74 L486.41,764.86 L489.84,764.98" fill="none" stroke="#000" stroke-width="2" stroke-dasharray="4 3.4"/>
<path d="M82.3,510.6 L85.72,520.73 L89.15,530.58 L92.57,540.15 L96,549.41 L99.42,558.37 L102.85,567.02 L106.27,575.33 L109.7,583.32 L113.12,590.96 L116.55,598.27 L119.97,605.24 L123.4,611.88 L126.82,618.18 L130.25,624.16 L133.67,629.81 L137.09,635.16 L140.52,640.22 L143.94,644.98 L147.37,649.47 L150.79,653.71 L154.22,657.7 L157.64,661.45 L161.07,664.98 L164.49,668.31 L167.92,671.45 L171.34,674.4 L174.77,677.18 L178.19,679.81 L181.62,682.28 L185.04,684.62 L188.47,686.83 L191.89,688.92 L195.31,690.89 L198.74,692.76 L202.16,694.54 L205.59,696.22 L209.01,697.82 L212.44,699.33 L215.86,700.78 L219.29,702.15 L222.71,703.46 L226.14,704.7 L229.56,705.89 L232.99,707.03 L236.41,708.11 L239.84,709.15 L243.26,710.15 L246.68,711.1 L250.11,712.01 L253.53,712.88 L256.96,713.72 L260.38,714.53 L263.81,715.3 L267.23,716.05 L270.66,716.77 L274.08,717.46 L277.51,718.12 L280.93,718.76 L284.36,719.38 L287.78,719.98 L291.21,720.55 L294.63,721.11 L298.05,721.65 L301.48,722.17 L304.9,722.67 L308.33,723.16 L311.75,723.63 L315.18,724.09 L318.6,724.53 L322.03,724.96 L325.45,725.38 L328.88,725.79 L332.3,726.18 L335.73,726.56 L339.15,726.93 L342.58,727.3 L346,727.65 L349.43,727.99 L352.85,728.32 L356.27,728.64 L359.7,728.96 L363.12,729.27 L366.55,729.56 L369.97,729.86 L373.4,730.14 L376.82,730.42 L380.25,730.69 L383.67,730.95 L387.1,731.21 L390.52,731.46 L393.95,731.71 L397.37,731.95 L400.8,732.18 L404.22,732.41 L407.64,732.63 L411.07,732.85 L414.49,733.07 L417.92,733.28 L421.34,733.48 L424.77,733.68 L428.19,733.88 L431.62,734.07 L435.04,734.26 L438.47,734.45 L441.89,734.63 L445.32,734.81 L448.74,734.98 L452.17,735.15 L455.59,735.32 L459.01,735.48 L462.44,735.64 L465.86,735.8 L469.29,735.95 L472.71,736.11 L476.14,736.26 L479.56,736.4 L482.99,736.55 L486.41,736.69 L489.84,736.83" fill="none" stroke="#000" stroke-width="2" stroke-dasharray="4 3.4"/>
<path d="M82.3,498.03 L85.72,501.91 L89.15,505.66 L92.57,509.3 L96,512.82 L99.42,516.25 L102.85,519.57 L106.27,522.8 L109.7,525.93 L113.12,528.98 L116.55,531.95 L119.97,534.83 L123.4,537.63 L126.82,540.37 L130.25,543.03 L133.67,545.62 L137.09,548.14 L140.52,550.6 L143.94,553 L147.37,555.35 L150.79,557.63 L154.22,559.86 L157.64,562.04 L161.07,564.16 L164.49,566.24 L167.92,568.27 L171.34,570.25 L174.77,572.19 L178.19,574.09 L181.62,575.94 L185.04,577.76 L188.47,579.54 L191.89,581.27 L195.31,582.98 L198.74,584.64 L202.16,586.27 L205.59,587.87 L209.01,589.44 L212.44,590.98 L215.86,592.48 L219.29,593.96 L222.71,595.41 L226.14,596.83 L229.56,598.22 L232.99,599.59 L236.41,600.93 L239.84,602.24 L243.26,603.54 L246.68,604.8 L250.11,606.05 L253.53,607.28 L256.96,608.48 L260.38,609.66 L263.81,610.82 L267.23,611.96 L270.66,613.08 L274.08,614.19 L277.51,615.27 L280.93,616.34 L284.36,617.39 L287.78,618.42 L291.21,619.43 L294.63,620.43 L298.05,621.41 L301.48,622.38 L304.9,623.33 L308.33,624.27 L311.75,625.19 L315.18,626.1 L318.6,627 L322.03,627.88 L325.45,628.75 L328.88,629.6 L332.3,630.44 L335.73,631.27 L339.15,632.09 L342.58,632.9 L346,633.69 L349.43,634.47 L352.85,635.25 L356.27,636.01 L359.7,636.76 L363.12,637.5 L366.55,638.23 L369.97,638.95 L373.4,639.66 L376.82,640.36 L380.25,641.05 L383.67,641.74 L387.1,642.41 L390.52,643.07 L393.95,643.73 L397.37,644.38 L400.8,645.02 L404.22,645.65 L407.64,646.27 L411.07,646.88 L414.49,647.49 L417.92,648.09 L421.34,648.68 L424.77,649.27 L428.19,649.85 L431.62,650.42 L435.04,650.98 L438.47,651.54 L441.89,652.09 L445.32,652.63 L448.74,653.17 L452.17,653.7 L455.59,654.23 L459.01,654.74 L462.44,655.26 L465.86,655.76 L469.29,656.27 L472.71,656.76 L476.14,657.25 L479.56,657.74 L482.99,658.21 L486.41,658.69 L489.84,659.16" fill="none" stroke="#000" stroke-width="2" stroke-dasharray="4 3.4"/>
</g>
<path d="M82.4,22.3 L82.4,365.5 L508.8,365.5 L508.8,22.3 Z" fill="none" stroke="#111" stroke-width="2"/>
<path d="M82.4,365.5 v7 M82.4,22.3 v6 M135.7,365.5 v7 M135.7,22.3 v6 M189,365.5 v7 M189,22.3 v6 M242.3,365.5 v7 M242.3,22.3 v6 M295.6,365.5 v7 M295.6,22.3 v6 M348.9,365.5 v7 M348.9,22.3 v6 M402.2,365.5 v7 M402.2,22.3 v6 M455.5,365.5 v7 M455.5,22.3 v6 M508.8,365.5 v7 M508.8,22.3 v6 M109.05,365.5 v4 M109.05,22.3 v3.5 M162.35,365.5 v4 M162.35,22.3 v3.5 M215.65,365.5 v4 M215.65,22.3 v3.5 M268.95,365.5 v4 M268.95,22.3 v3.5 M322.25,365.5 v4 M322.25,22.3 v3.5 M375.55,365.5 v4 M375.55,22.3 v3.5 M428.85,365.5 v4 M428.85,22.3 v3.5 M482.15,365.5 v4 M482.15,22.3 v3.5 M82.4,365.5 h-7.5 M508.8,365.5 h7 M82.4,316.47 h-7.5 M508.8,316.47 h7 M82.4,267.44 h-7.5 M508.8,267.44 h7 M82.4,218.41 h-7.5 M508.8,218.41 h7 M82.4,169.39 h-7.5 M508.8,169.39 h7 M82.4,120.36 h-7.5 M508.8,120.36 h7 M82.4,71.33 h-7.5 M508.8,71.33 h7 M82.4,22.3 h-7.5 M508.8,22.3 h7 M82.4,340.99 h-4 M508.8,340.99 h4 M82.4,291.96 h-4 M508.8,291.96 h4 M82.4,242.93 h-4 M508.8,242.93 h4 M82.4,193.9 h-4 M508.8,193.9 h4 M82.4,144.87 h-4 M508.8,144.87 h4 M82.4,95.84 h-4 M508.8,95.84 h4 M82.4,46.81 h-4 M508.8,46.81 h4" stroke="#111" stroke-width="2" fill="none"/>
<text x="82.4" y="391.8" font-size="19.8" text-anchor="middle" textLength="10.51" lengthAdjust="spacingAndGlyphs">0</text>
<text x="135.7" y="391.8" font-size="19.8" text-anchor="middle" textLength="10.51" lengthAdjust="spacingAndGlyphs">3</text>
<text x="189" y="391.8" font-size="19.8" text-anchor="middle" textLength="10.51" lengthAdjust="spacingAndGlyphs">6</text>
<text x="242.3" y="391.8" font-size="19.8" text-anchor="middle" textLength="10.51" lengthAdjust="spacingAndGlyphs">9</text>
<text x="295.6" y="391.8" font-size="19.8" text-anchor="middle" textLength="21.03" lengthAdjust="spacingAndGlyphs">12</text>
<text x="348.9" y="391.8" font-size="19.8" text-anchor="middle" textLength="21.03" lengthAdjust="spacingAndGlyphs">15</text>
<text x="402.2" y="391.8" font-size="19.8" text-anchor="middle" textLength="21.03" lengthAdjust="spacingAndGlyphs">18</text>
<text x="455.5" y="391.8" font-size="19.8" text-anchor="middle" textLength="21.03" lengthAdjust="spacingAndGlyphs">21</text>
<text x="508.8" y="391.8" font-size="19.8" text-anchor="middle" textLength="21.03" lengthAdjust="spacingAndGlyphs">24</text>
<text x="70.6" y="371.6" font-size="19.8" text-anchor="end" textLength="10.51" lengthAdjust="spacingAndGlyphs">0</text>
<text x="70.6" y="322.57" font-size="19.8" text-anchor="end" textLength="21.03" lengthAdjust="spacingAndGlyphs">10</text>
<text x="70.6" y="273.54" font-size="19.8" text-anchor="end" textLength="21.03" lengthAdjust="spacingAndGlyphs">20</text>
<text x="70.6" y="224.51" font-size="19.8" text-anchor="end" textLength="21.03" lengthAdjust="spacingAndGlyphs">30</text>
<text x="70.6" y="175.49" font-size="19.8" text-anchor="end" textLength="21.03" lengthAdjust="spacingAndGlyphs">40</text>
<text x="70.6" y="126.46" font-size="19.8" text-anchor="end" textLength="21.03" lengthAdjust="spacingAndGlyphs">50</text>
<text x="70.6" y="77.43" font-size="19.8" text-anchor="end" textLength="21.03" lengthAdjust="spacingAndGlyphs">60</text>
<text x="70.6" y="28.4" font-size="19.8" text-anchor="end" textLength="21.03" lengthAdjust="spacingAndGlyphs">70</text>
<path d="M82.3,448.9 L82.3,793.7 L510,793.7 L510,448.9 Z" fill="none" stroke="#111" stroke-width="2"/>
<path d="M82.3,793.7 v7 M82.3,448.9 v6 M143.4,793.7 v7 M143.4,448.9 v6 M204.5,793.7 v7 M204.5,448.9 v6 M265.6,793.7 v7 M265.6,448.9 v6 M326.7,793.7 v7 M326.7,448.9 v6 M387.8,793.7 v7 M387.8,448.9 v6 M448.9,793.7 v7 M448.9,448.9 v6 M510,793.7 v7 M510,448.9 v6 M112.85,793.7 v4 M112.85,448.9 v3.5 M173.95,793.7 v4 M173.95,448.9 v3.5 M235.05,793.7 v4 M235.05,448.9 v3.5 M296.15,793.7 v4 M296.15,448.9 v3.5 M357.25,793.7 v4 M357.25,448.9 v3.5 M418.35,793.7 v4 M418.35,448.9 v3.5 M479.45,793.7 v4 M479.45,448.9 v3.5 M82.3,793.7 h-7.5 M510,793.7 h7 M82.3,759.22 h-7.5 M510,759.22 h7 M82.3,724.74 h-7.5 M510,724.74 h7 M82.3,690.26 h-7.5 M510,690.26 h7 M82.3,655.78 h-7.5 M510,655.78 h7 M82.3,621.3 h-7.5 M510,621.3 h7 M82.3,586.82 h-7.5 M510,586.82 h7 M82.3,552.34 h-7.5 M510,552.34 h7 M82.3,517.86 h-7.5 M510,517.86 h7 M82.3,483.38 h-7.5 M510,483.38 h7 M82.3,448.9 h-7.5 M510,448.9 h7 M82.3,776.46 h-4 M510,776.46 h4 M82.3,741.98 h-4 M510,741.98 h4 M82.3,707.5 h-4 M510,707.5 h4 M82.3,673.02 h-4 M510,673.02 h4 M82.3,638.54 h-4 M510,638.54 h4 M82.3,604.06 h-4 M510,604.06 h4 M82.3,569.58 h-4 M510,569.58 h4 M82.3,535.1 h-4 M510,535.1 h4 M82.3,500.62 h-4 M510,500.62 h4 M82.3,466.14 h-4 M510,466.14 h4" stroke="#111" stroke-width="2" fill="none"/>
<text x="82.3" y="821" font-size="19.8" text-anchor="middle" textLength="10.51" lengthAdjust="spacingAndGlyphs">0</text>
<text x="143.4" y="821" font-size="19.8" text-anchor="middle" textLength="10.51" lengthAdjust="spacingAndGlyphs">1</text>
<text x="204.5" y="821" font-size="19.8" text-anchor="middle" textLength="10.51" lengthAdjust="spacingAndGlyphs">2</text>
<text x="265.6" y="821" font-size="19.8" text-anchor="middle" textLength="10.51" lengthAdjust="spacingAndGlyphs">3</text>
<text x="326.7" y="821" font-size="19.8" text-anchor="middle" textLength="10.51" lengthAdjust="spacingAndGlyphs">4</text>
<text x="387.8" y="821" font-size="19.8" text-anchor="middle" textLength="10.51" lengthAdjust="spacingAndGlyphs">5</text>
<text x="448.9" y="821" font-size="19.8" text-anchor="middle" textLength="10.51" lengthAdjust="spacingAndGlyphs">6</text>
<text x="510" y="821" font-size="19.8" text-anchor="middle" textLength="10.51" lengthAdjust="spacingAndGlyphs">7</text>
<text x="70.6" y="799.8" font-size="19.8" text-anchor="end" textLength="31.54" lengthAdjust="spacingAndGlyphs">300</text>
<text x="70.6" y="765.32" font-size="19.8" text-anchor="end" textLength="31.54" lengthAdjust="spacingAndGlyphs">320</text>
<text x="70.6" y="730.84" font-size="19.8" text-anchor="end" textLength="31.54" lengthAdjust="spacingAndGlyphs">340</text>
<text x="70.6" y="696.36" font-size="19.8" text-anchor="end" textLength="31.54" lengthAdjust="spacingAndGlyphs">360</text>
<text x="70.6" y="661.88" font-size="19.8" text-anchor="end" textLength="31.54" lengthAdjust="spacingAndGlyphs">380</text>
<text x="70.6" y="627.4" font-size="19.8" text-anchor="end" textLength="31.54" lengthAdjust="spacingAndGlyphs">400</text>
<text x="70.6" y="592.92" font-size="19.8" text-anchor="end" textLength="31.54" lengthAdjust="spacingAndGlyphs">420</text>
<text x="70.6" y="558.44" font-size="19.8" text-anchor="end" textLength="31.54" lengthAdjust="spacingAndGlyphs">440</text>
<text x="70.6" y="523.96" font-size="19.8" text-anchor="end" textLength="31.54" lengthAdjust="spacingAndGlyphs">460</text>
<text x="70.6" y="489.48" font-size="19.8" text-anchor="end" textLength="31.54" lengthAdjust="spacingAndGlyphs">480</text>
<text x="70.6" y="455" font-size="19.8" text-anchor="end" textLength="31.54" lengthAdjust="spacingAndGlyphs">500</text>
<text x="295.2" y="419.9" font-size="22.4" text-anchor="middle" textLength="186" lengthAdjust="spacingAndGlyphs">eq Oligonucleotide</text>
<text x="296.5" y="846.8" font-size="22.4" text-anchor="middle" textLength="189" lengthAdjust="spacingAndGlyphs">eq Oligonucleotide</text>
<text transform="translate(36.4,193.8) rotate(-90)" font-size="22.4" text-anchor="middle" textLength="284.6" lengthAdjust="spacingAndGlyphs">Fluorescence Intensity / a.u.</text>
<text transform="translate(26.4,621.6) rotate(-90)" font-size="22.4" text-anchor="middle" textLength="288.3" lengthAdjust="spacingAndGlyphs">Fluorescence Intensity / a.u.</text>
<text transform="translate(0.4,29.8) scale(1.02,1)" font-size="35.2" font-weight="bold" stroke="#111" stroke-width="0.8" stroke-linejoin="round">A</text>
<text transform="translate(29.1,29.6) scale(0.82,1)" font-size="37.5" font-weight="bold" stroke="#111" stroke-width="0.8" stroke-linejoin="round">)</text>
<text transform="translate(0.1,446.4) scale(0.9,1)" font-size="37" font-weight="bold" stroke="#111" stroke-width="0.8" stroke-linejoin="round">B</text>
<text transform="translate(25.8,446.4) scale(0.86,1)" font-size="39" font-weight="bold" stroke="#111" stroke-width="0.8" stroke-linejoin="round">)</text>
<rect x="523.8" y="25.6" width="115" height="236.1" fill="#000"/>
<rect x="519.3" y="20.6" width="115" height="236.1" fill="#fff" stroke="#999" stroke-width="1"/>
<text x="521.1" y="35.5" font-size="14.3" font-weight="bold">Parallel:</text>
<rect x="527.64" y="44.04" width="11.32" height="11.32" fill="#ff0000"/>
<text x="550.3" y="54.2" font-size="14.5"><tspan font-style="italic">c-MYC</tspan> Pu22</text>
<circle cx="533.3" cy="67.8" r="6.44" fill="#ff0000"/>
<text x="550.3" y="72.3" font-size="14.5"><tspan font-style="italic">c-KIT</tspan> 2</text>
<polygon points="533.3,77.01 541.03,90.35 525.57,90.35" fill="#ff0000"/>
<text x="550.3" y="90.4" font-size="14.5"><tspan font-style="italic">VAV</tspan>-1</text>
<polygon points="533.3,112.89 541.03,99.55 525.57,99.55" fill="#ff0000"/>
<text x="550.3" y="108.5" font-size="14.5"><tspan font-style="italic">BCL</tspan>-2</text>
<text x="521.1" y="126" font-size="14.3" font-weight="bold">Hybrid:</text>
<polygon points="533.3,132.2 541.3,140.2 533.3,148.2 525.3,140.2" fill="#0000ff"/>
<text x="550.3" y="144.7" font-size="14.5">Tel-22</text>
<text x="521.1" y="162.2" font-size="14.3" font-weight="bold">Antiparallel:</text>
<polygon points="524.71,176.4 537.59,168.76 537.59,184.04" fill="#c0c0c0"/>
<text x="550.3" y="180.9" font-size="14.5">Bom17</text>
<polygon points="541.89,194.5 529.01,186.86 529.01,202.14" fill="#c0c0c0"/>
<text x="550.3" y="199" font-size="14.5">TBA</text>
<text x="521.1" y="216.5" font-size="14.3" font-weight="bold">Non-G4:</text>
<polygon points="533.3,223.58 539.47,227.14 539.47,234.26 533.3,237.83 527.13,234.26 527.13,227.14" fill="#c0c0c0"/>
<text x="550.3" y="235.2" font-size="14.5"><tspan font-style="italic">ss</tspan>-DNA</text>
<polygon points="533.3,241.8 535.18,246.82 540.53,247.05 536.34,250.39 537.77,255.55 533.3,252.59 528.83,255.55 530.26,250.39 526.07,247.05 531.42,246.82" fill="#c0c0c0"/>
<text x="550.3" y="253.3" font-size="14.5"><tspan font-style="italic">ds</tspan>-DNA</text>
<rect x="524.2" y="453.5" width="115.6" height="239.4" fill="#000"/>
<rect x="519.7" y="448.5" width="115.6" height="239.4" fill="#fff" stroke="#999" stroke-width="1"/>
<text x="521.5" y="463" font-size="14.5" font-weight="bold">Parallel:</text>
<rect x="528.04" y="471.79" width="11.32" height="11.32" fill="#ff0000"/>
<text x="550.7" y="481.95" font-size="14.9"><tspan font-style="italic">c-MYC</tspan> Pu22</text>
<circle cx="533.7" cy="495.8" r="6.44" fill="#ff0000"/>
<text x="550.7" y="500.3" font-size="14.9"><tspan font-style="italic">c-KIT</tspan> 2</text>
<polygon points="533.7,505.26 541.43,518.6 525.97,518.6" fill="#ff0000"/>
<text x="550.7" y="518.65" font-size="14.9"><tspan font-style="italic">VAV</tspan>-1</text>
<polygon points="533.7,541.39 541.43,528.05 525.97,528.05" fill="#ff0000"/>
<text x="550.7" y="537" font-size="14.9"><tspan font-style="italic">BCL</tspan>-2</text>
<text x="521.5" y="554.75" font-size="14.5" font-weight="bold">Hybrid:</text>
<polygon points="533.7,561.2 541.7,569.2 533.7,577.2 525.7,569.2" fill="#0000ff"/>
<text x="550.7" y="573.7" font-size="14.9">Tel-22</text>
<text x="521.5" y="591.45" font-size="14.5" font-weight="bold">Antiparallel:</text>
<polygon points="525.11,605.9 537.99,598.26 537.99,613.54" fill="#c0c0c0"/>
<text x="550.7" y="610.4" font-size="14.9">Bom17</text>
<polygon points="542.29,624.25 529.41,616.61 529.41,631.89" fill="#c0c0c0"/>
<text x="550.7" y="628.75" font-size="14.9">TBA</text>
<text x="521.5" y="646.5" font-size="14.5" font-weight="bold">Non-G4:</text>
<polygon points="533.7,653.83 539.87,657.39 539.87,664.51 533.7,668.08 527.53,664.51 527.53,657.39" fill="#c0c0c0"/>
<text x="550.7" y="665.45" font-size="14.9"><tspan font-style="italic">ss</tspan>-DNA</text>
<polygon points="533.7,672.3 535.58,677.32 540.93,677.55 536.74,680.89 538.17,686.05 533.7,683.09 529.23,686.05 530.66,680.89 526.47,677.55 531.82,677.32" fill="#c0c0c0"/>
<text x="550.7" y="683.8" font-size="14.9"><tspan font-style="italic">ds</tspan>-DNA</text>
</svg></body></html>
